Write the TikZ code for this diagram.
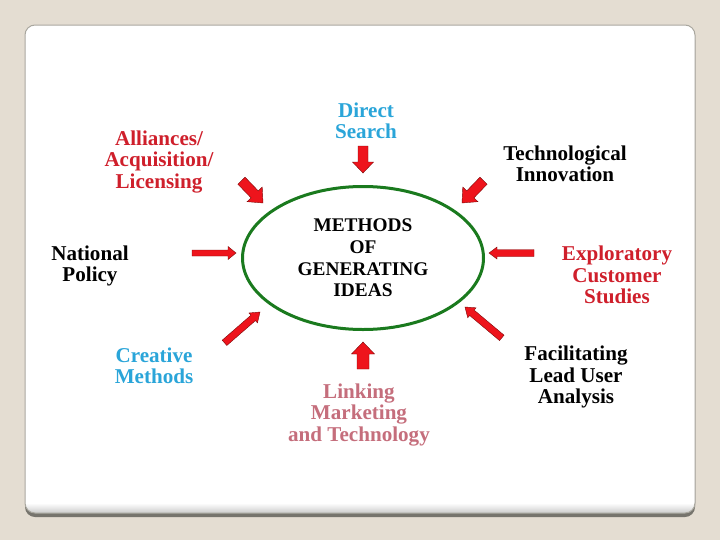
\documentclass[tikz,border=0pt]{standalone}
\usepackage{fontspec}
\setmainfont{Liberation Serif}
\usetikzlibrary{shapes.geometric}

\definecolor{pagebeige}{HTML}{E4DDD2}
\definecolor{cardedge}{HTML}{A9A79F}
\definecolor{cardshadow}{HTML}{76746D}
\definecolor{ideagreen}{HTML}{1A7A1E}
\definecolor{arrowred}{HTML}{EE141C}
\definecolor{arrowrim}{HTML}{7E0A0A}
\definecolor{textred}{HTML}{CF1F2B}
\definecolor{textcyan}{HTML}{2AA5D9}
\definecolor{textpink}{HTML}{C56E7C}

\tikzset{
	label/.style={align=center, inner sep=0pt, font=\bfseries\fontsize{18}{18.4}\selectfont},
	core/.style={ellipse, draw=ideagreen, line width=0.9mm, minimum width=72.3mm, minimum height=42.9mm,
		align=center, font=\bfseries\fontsize{16.5}{18.4}\selectfont},
	arrowfill/.style={fill=arrowred, draw=arrowrim, line width=0.35pt, line join=miter},
	% length, half shaft, half head, head length
	pics/inarrow/.style n args={4}{code={
		\filldraw[arrowfill] (0,0) -- (-#4,#3) -- (-#4,#2) -- (-#1,#2) -- (-#1,-#2) -- (-#4,-#2) -- (-#4,-#3) -- cycle;
	}}
}

\begin{document}
\begin{tikzpicture}[x=0.3mm, y=-0.3mm]
	% Page and card:
	\useasboundingbox[fill=pagebeige] (0,0) rectangle (720,540);
	\fill[cardshadow, rounded corners=3mm] (25,30) rectangle (695,517);
	\begin{scope}
		\clip[rounded corners=3mm] (25,25) rectangle (695,513);
		\fill[white] (25,25) rectangle (695,513);
		\shade[top color=white, bottom color=gray!40] (25,503) rectangle (695,513);
	\end{scope}
	\draw[cardedge, line width=0.3mm, rounded corners=3mm] (25,25) rectangle (695,513);

	% Centre:
	\node[core] (ideas) at (363,258) {METHODS\\OF\\GENERATING\\IDEAS};

	% Sources:
	\node[label, text=textcyan] (direct) at (366,121) {Direct\\Search};
	\node[label, text=textred] (alliances) at (159,162) {Alliances/\\Acquisition/\\Licensing};
	\node[label] (techinno) at (565,164) {Technological\\Innovation};
	\node[label] (national) at (90,266) {National\\Policy};
	\node[label, text=textred] (explore) at (617,275) {Exploratory\\Customer\\Studies};
	\node[label, text=textcyan] (creative) at (154,366) {Creative\\Methods};
	\node[label, text=textpink] (linking) at (359,415) {Linking\\Marketing\\and Technology};
	\node[label] (leaduser) at (576,377) {Facilitating\\Lead User\\Analysis};

	% Arrows into the centre:
	\pic[rotate=-90] at (363,173) {inarrow={27}{5}{10.5}{11}};
	\pic[rotate=-46] at (263,203) {inarrow={31}{5}{10.5}{12}};
	\pic[rotate=-134] at (462,203) {inarrow={31}{5}{10.5}{12}};
	\pic[rotate=0] at (236,253) {inarrow={44}{3}{6.5}{8}};
	\pic[rotate=180] at (489,253) {inarrow={45}{3.5}{6}{8}};
	\pic[rotate=41] at (260,312) {inarrow={47}{3.5}{6.5}{9}};
	\pic[rotate=140] at (465,307) {inarrow={48}{3.5}{6.5}{9}};
	\pic[rotate=90] at (363,342) {inarrow={27}{6}{11.5}{12}};
\end{tikzpicture}
\end{document}
